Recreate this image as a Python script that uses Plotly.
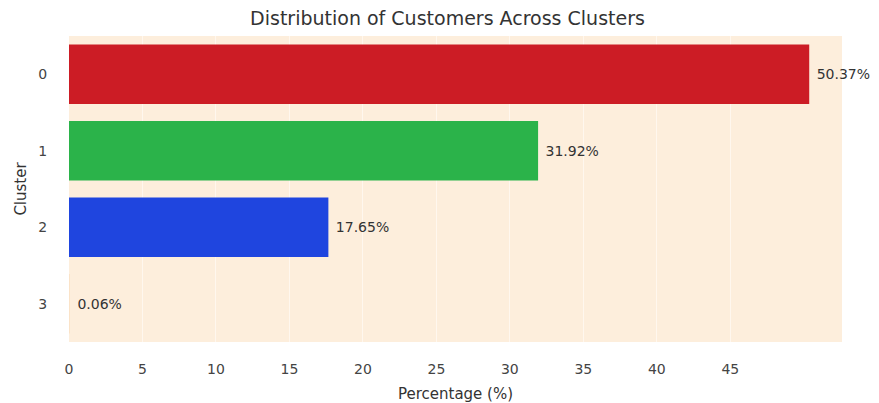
import plotly.graph_objects as go

clusters = ["0", "1", "2", "3"]
percentages = [50.37, 31.92, 17.65, 0.06]
bar_colors = ["#cc1c25", "#2bb34a", "#1f45df", "#fbe3c8"]
x_ticks = [0, 5, 10, 15, 20, 25, 30, 35, 40, 45]

fig = go.Figure(
    go.Bar(
        y=clusters,
        x=percentages,
        orientation="h",
        marker=dict(color=bar_colors, line=dict(width=0)),
        width=0.78,
        text=[f" {v:.2f}%" for v in percentages],
        textposition="outside",
        textfont=dict(family="DejaVu Sans", size=14, color="#333333"),
        cliponaxis=False,
    )
)

fig.update_layout(
    width=879,
    height=403,
    paper_bgcolor="white",
    plot_bgcolor="#fdeedc",
    margin=dict(l=56, r=45, t=28, b=68),
    title=dict(
        text="Distribution of Customers Across Clusters",
        x=0.5,
        xanchor="center",
        y=0.975,
        yanchor="middle",
        font=dict(family="DejaVu Sans", size=19, color="#333333"),
    ),
    font=dict(family="DejaVu Sans", size=14, color="#444444"),
    showlegend=False,
)

fig.update_xaxes(
    range=[0, 52.6],
    tickmode="array",
    tickvals=x_ticks,
    ticktext=[str(t) for t in x_ticks],
    showgrid=True,
    gridcolor="#fff7ee",
    gridwidth=1,
    zeroline=False,
    title=dict(text="Percentage (%)", font=dict(size=15, color="#333333"), standoff=12),
    tickfont=dict(size=14, color="#444444"),
    ticks="outside",
    ticklen=14,
    tickcolor="rgba(0,0,0,0)",
)
fig.update_yaxes(
    categoryorder="array",
    categoryarray=clusters,
    autorange="reversed",
    showgrid=False,
    zeroline=False,
    title=dict(text="Cluster", font=dict(size=15, color="#333333"), standoff=8),
    tickfont=dict(size=14, color="#444444"),
    ticks="outside",
    ticklen=18,
    tickcolor="rgba(0,0,0,0)",
)

fig.write_html("out.html")
